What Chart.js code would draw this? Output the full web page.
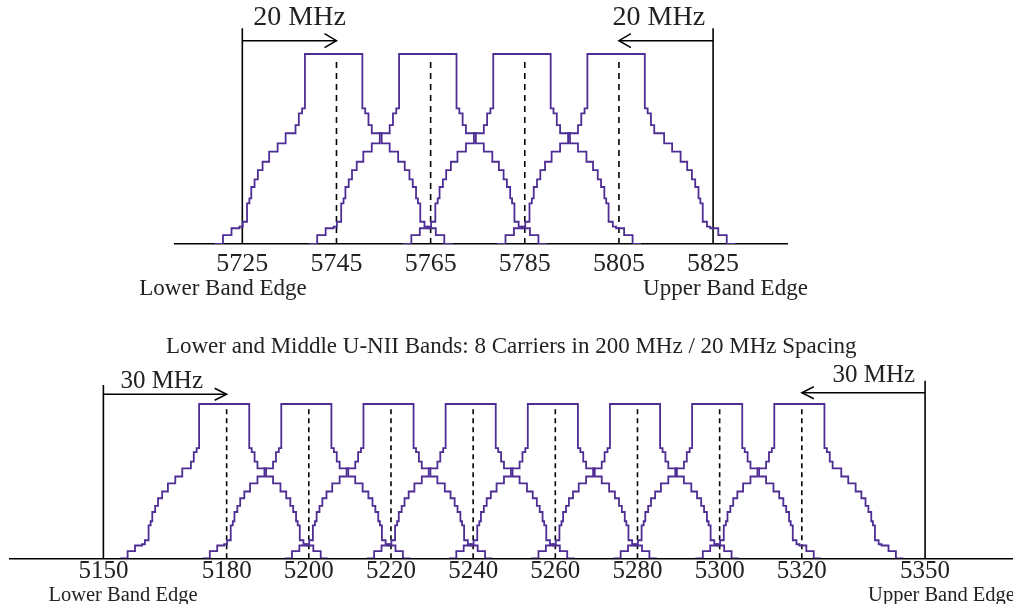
<!DOCTYPE html>
<html>
<head>
<meta charset="utf-8">
<title>U-NII carrier plan</title>
<script src="https://cdn.jsdelivr.net/npm/chart.js@4.4.0/dist/chart.umd.min.js"></script>
<style>
  html, body { margin: 0; padding: 0; background: #fff; }
  body { width: 1013px; height: 604px; position: relative; overflow: hidden; }
  .plot { position: absolute; left: 0; width: 1013px; }
  #upperWrap { top: 0; height: 310px; }
  #lowerWrap { top: 320px; height: 284px; }
</style>
</head>
<body>
<div class="plot" id="upperWrap"><canvas id="upperChart"></canvas></div>
<div class="plot" id="lowerWrap"><canvas id="lowerChart"></canvas></div>
<script>
// Upper U-NII band (top plot)
const upperCarriers = [5745, 5765, 5785, 5805];
const upperEdges = [5725, 5825];
const upperTicks = [5725, 5745, 5765, 5785, 5805, 5825];
const upperGuard = "20 MHz";

// Lower and middle U-NII bands (bottom plot)
const lowerCarriers = [5180, 5200, 5220, 5240, 5260, 5280, 5300, 5320];
const lowerEdges = [5150, 5350];
const lowerTicks = [5150, 5180, 5200, 5220, 5240, 5260, 5280, 5300, 5320, 5350];
const lowerGuard = "30 MHz";
const lowerTitle = "Lower and Middle U-NII Bands: 8 Carriers in 200 MHz / 20 MHz Spacing";

const edgeNames = ["Lower Band Edge", "Upper Band Edge"];

// spectral mask outline: offset from the carrier (MHz) and level (% of peak)
const maskOffsets = [-25.3, -23.5, -21.7, -20.0, -19.3, -18.4, -17.9, -17.5, -16.8, -16.1, -15.1, -13.7, -11.9, -10.2, -8.1, -7.4, -6.7, -6.1,
  6.1, 6.1, 6.7, 7.4, 8.1, 10.2, 11.9, 13.7, 15.1, 16.1, 16.8, 17.5, 17.9, 18.4, 19.3, 20.0, 21.7, 23.5, 25.3];
const maskLevels = [0, 4.7, 8.3, 9.1, 11.7, 21.4, 24, 30, 34, 38.9, 43.3, 48.6, 53, 58.3, 62.6, 68.8, 71.4, 100,
  100, 71.4, 68.8, 62.6, 58.3, 53, 48.6, 43.3, 38.9, 34, 30, 24, 21.4, 11.7, 9.1, 8.3, 4.7, 0, 0];
// the masks sit a little left of the dashed carrier lines in the source figure
const maskShift = -0.6;

const serif = "'Liberation Serif', 'Times New Roman', serif";
const ink = "#222";
const purple = "#4e2d94";

// draws arrow heads and the free text labels
const annotations = {
  id: "annotations",
  afterDatasetsDraw(chart, args, opts) {
    const { ctx } = chart;
    const x = chart.scales.x, y = chart.scales.y;
    ctx.save();
    ctx.strokeStyle = "#000";
    ctx.lineWidth = 1.5;
    opts.arrows.forEach((a) => {
      const tipX = x.getPixelForValue(a.to);
      const tipY = y.getPixelForValue(a.level);
      const dir = a.to > a.from ? 1 : -1;
      ctx.beginPath();
      ctx.moveTo(tipX - dir * opts.headLength, tipY - opts.headSpread);
      ctx.lineTo(tipX, tipY);
      ctx.lineTo(tipX - dir * opts.headLength, tipY + opts.headSpread);
      ctx.stroke();
    });
    ctx.restore();
  },
  afterDraw(chart, args, opts) {
    const { ctx, chartArea } = chart;
    const x = chart.scales.x, y = chart.scales.y;
    ctx.save();
    ctx.fillStyle = ink;
    // guard band labels above the arrows
    ctx.font = opts.guardSize + "px " + serif;
    ctx.textBaseline = "middle";
    opts.guards.forEach((g) => {
      ctx.textAlign = g.align;
      ctx.fillText(g.text, x.getPixelForValue(g.edge) + g.dx, y.getPixelForValue(g.level));
    });
    // band edge names under the tick labels
    ctx.font = opts.edgeSize + "px " + serif;
    ctx.textBaseline = "alphabetic";
    ctx.textAlign = "left";
    opts.edgeLabels.forEach((e) => {
      ctx.fillText(e.text, x.getPixelForValue(e.edge) + e.dx, chartArea.bottom + opts.edgeDrop);
    });
    ctx.restore();
  }
};

function buildPlot(canvasId, cfg) {
  const datasets = [];
  const plain = { pointRadius: 0, fill: false, borderColor: "#000", borderWidth: 1.6 };

  cfg.carriers.forEach((c) => {
    datasets.push({
      data: maskOffsets.map((d, i) => ({ x: c + maskShift + d, y: maskLevels[i] })),
      borderColor: purple,
      borderWidth: 1.8,
      stepped: true,
      pointRadius: 0,
      fill: false
    });
  });

  cfg.carriers.forEach((c) => {
    datasets.push({ ...plain, data: [{ x: c, y: 0 }, { x: c, y: cfg.dashTop }], borderDash: cfg.dash });
  });

  const outer = [cfg.carriers[0], cfg.carriers[cfg.carriers.length - 1]];
  cfg.edges.forEach((e, i) => {
    datasets.push({ ...plain, data: [{ x: e, y: 0 }, { x: e, y: cfg.edgeTop[i] }] });
    datasets.push({ ...plain, data: [{ x: e, y: cfg.arrowLevel[i] }, { x: outer[i], y: cfg.arrowLevel[i] }] });
  });

  return new Chart(document.getElementById(canvasId), {
    type: "line",
    data: { datasets },
    plugins: [annotations],
    options: {
      responsive: true,
      maintainAspectRatio: false,
      animation: false,
      layout: { padding: cfg.padding },
      scales: {
        x: {
          type: "linear",
          min: cfg.xMin,
          max: cfg.xMax,
          afterBuildTicks: (s) => { s.ticks = cfg.ticks.map((v) => ({ value: v })); },
          afterFit: (s) => { s.height = cfg.axisHeight; },
          grid: { display: false, drawTicks: false },
          border: { display: true, color: "#000", width: 1.6 },
          ticks: {
            autoSkip: false,
            maxRotation: 0,
            padding: cfg.tickPad,
            color: ink,
            font: { family: serif, size: cfg.tickSize, lineHeight: 1 },
            callback: (v) => String(v)
          }
        },
        y: { display: false, min: 0, max: 125 }
      },
      plugins: {
        legend: { display: false },
        tooltip: { enabled: false },
        title: cfg.title
          ? {
              display: true,
              text: cfg.title,
              color: ink,
              font: { family: serif, size: 23, weight: "normal", lineHeight: 1.2 },
              padding: { top: 13.2, bottom: 4.6 }
            }
          : { display: false },
        annotations: {
          headLength: 12,
          headSpread: cfg.headSpread,
          arrows: cfg.edges.map((e, i) => ({ from: e, to: outer[i], level: cfg.arrowLevel[i] })),
          guardSize: cfg.guardSize,
          guards: [
            { text: cfg.guard, edge: cfg.edges[0], dx: cfg.guardDx[0], level: cfg.guardLevel[0], align: "left" },
            { text: cfg.guard, edge: cfg.edges[1], dx: cfg.guardDx[1], level: cfg.guardLevel[1], align: "right" }
          ],
          edgeSize: cfg.edgeSize,
          edgeDrop: cfg.edgeDrop,
          edgeLabels: edgeNames.map((t, i) => ({ text: t, edge: cfg.edges[i], dx: cfg.edgeDx[i] }))
        }
      }
    }
  });
}

buildPlot("upperChart", {
  carriers: upperCarriers,
  edges: upperEdges,
  ticks: upperTicks,
  guard: upperGuard,
  xMin: 5710.7,
  xMax: 5840.7,
  padding: { left: 175, right: 226, top: 6.5, bottom: 0 },
  axisHeight: 66,
  tickPad: 7.5,
  tickSize: 26,
  dashTop: 97.9,
  dash: [6, 5],
  edgeTop: [113.5, 113.5],
  arrowLevel: [107, 107],
  headSpread: 7,
  guardSize: 28,
  guardDx: [11, -8],
  guardLevel: [119, 119.2],
  edgeSize: 23,
  edgeDrop: 50.5,
  edgeDx: [-103, -70]
});

buildPlot("lowerChart", {
  carriers: lowerCarriers,
  edges: lowerEdges,
  ticks: lowerTicks,
  guard: lowerGuard,
  title: lowerTitle,
  xMin: 5127.1,
  xMax: 5371.4,
  padding: { left: 9.3, right: 0, top: 0, bottom: 0 },
  axisHeight: 45.7,
  tickPad: 0.7,
  tickSize: 25,
  dashTop: 96.6,
  dash: [5, 4],
  edgeTop: [112.3, 115.1],
  arrowLevel: [106.3, 107.3],
  headSpread: 6,
  guardSize: 25,
  guardDx: [17, -10],
  guardLevel: [114.5, 118.8],
  edgeSize: 20.5,
  edgeDrop: 42.4,
  edgeDx: [-55, -57]
});
</script>
</body>
</html>
